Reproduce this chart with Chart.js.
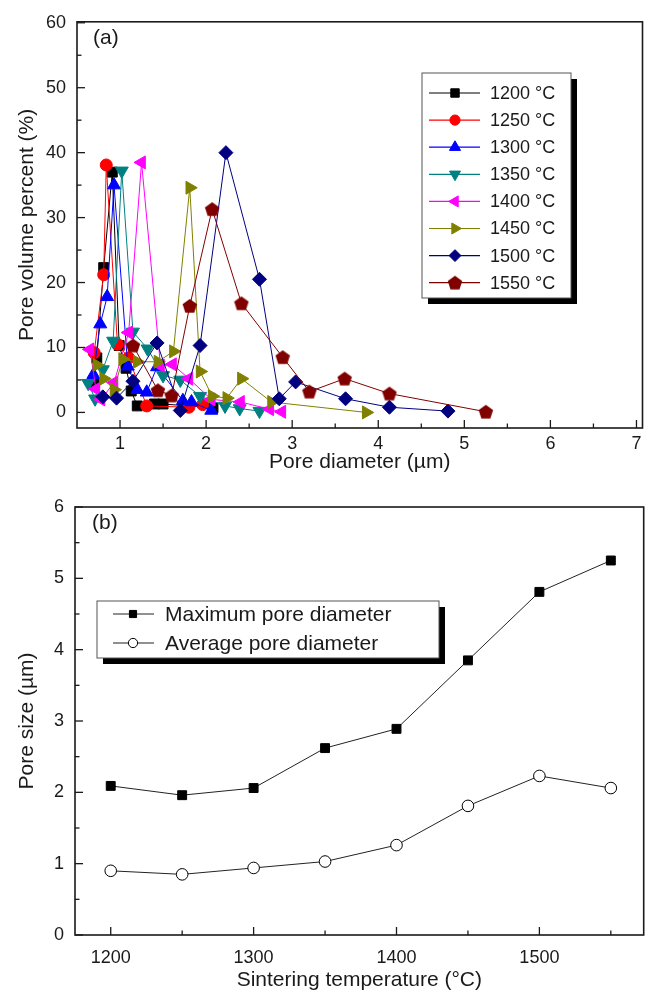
<!DOCTYPE html>
<html>
<head>
<meta charset="utf-8">
<script src="https://cdn.jsdelivr.net/npm/chart.js@4"></script>
<style>
  html, body { margin: 0; padding: 0; background: #fff; }
  canvas { position: absolute; left: 0; }
  #chartA { top: 0; }
  #chartB { top: 475px; }
</style>
</head>
<body>
<canvas id="chartA" width="651" height="475"></canvas>
<canvas id="chartB" width="651" height="519"></canvas>
<script>
// (a) pore size distributions, one pair of arrays per sintering temperature
const dia1200 = [0.70, 0.73, 0.81, 0.91, 0.99, 1.07, 1.13, 1.20, 1.40, 1.50, 2.08];
const vol1200 = [4.5, 8.4, 22.3, 37.0, 10.3, 6.8, 3.3, 1.0, 1.3, 1.3, 0.7];
const dia1250 = [0.70, 0.81, 0.84, 0.97, 1.10, 1.31, 1.80, 1.96];
const vol1250 = [9.2, 21.2, 38.1, 10.5, 8.4, 1.0, 0.8, 1.2];
const dia1300 = [0.69, 0.77, 0.85, 0.93, 1.09, 1.20, 1.31, 1.43, 1.73, 1.83, 2.06];
const vol1300 = [5.8, 13.6, 17.8, 35.0, 7.1, 3.5, 3.1, 7.0, 1.8, 1.6, 0.3];
const dia1350 = [0.63, 0.71, 0.80, 0.92, 1.02, 1.15, 1.32, 1.50, 1.70, 1.93, 2.22, 2.39, 2.62];
const vol1350 = [4.5, 2.1, 6.6, 11.0, 37.2, 12.4, 9.8, 5.7, 5.0, 2.5, 1.0, 0.6, 0.2];
const dia1400 = [0.65, 0.72, 0.78, 0.93, 1.10, 1.25, 1.47, 1.61, 1.80, 2.06, 2.40, 2.74, 2.88];
const vol1400 = [9.7, 3.6, 2.0, 4.6, 12.3, 38.5, 7.2, 7.4, 5.2, 2.0, 1.6, 0.5, 0.1];
const dia1450 = [0.73, 0.81, 0.93, 1.03, 1.20, 1.44, 1.62, 1.81, 1.93, 2.07, 2.24, 2.41, 2.76, 3.86];
const vol1450 = [7.3, 5.2, 3.5, 8.2, 7.8, 7.8, 9.4, 34.6, 6.3, 2.5, 2.2, 5.2, 1.6, 0.0];
const dia1500 = [0.80, 0.96, 1.15, 1.43, 1.70, 1.93, 2.23, 2.62, 2.85, 3.04, 3.62, 4.13, 4.81];
const vol1500 = [2.4, 2.2, 4.8, 10.7, 0.3, 10.3, 40.0, 20.5, 2.1, 4.7, 2.1, 0.8, 0.2];
const dia1550 = [1.15, 1.44, 1.60, 1.81, 2.07, 2.41, 2.89, 3.20, 3.61, 4.13, 5.25];
const vol1550 = [10.3, 3.4, 2.6, 16.4, 31.3, 16.8, 8.5, 3.2, 5.2, 2.9, 0.1];

const seriesNames = ["1200 °C", "1250 °C", "1300 °C", "1350 °C", "1400 °C", "1450 °C", "1500 °C", "1550 °C"];
const diaTicks = [1, 2, 3, 4, 5, 6, 7];
const volTicks = [0, 10, 20, 30, 40, 50, 60];

// (b) pore size vs sintering temperature
const sinterTemps = [1200, 1250, 1300, 1350, 1400, 1450, 1500, 1550];
const maxDia = [2.09, 1.96, 2.06, 2.62, 2.89, 3.85, 4.81, 5.25];
const avgDia = [0.90, 0.85, 0.94, 1.03, 1.26, 1.81, 2.23, 2.06];
const tempTicks = [1200, 1300, 1400, 1500];
const sizeTicks = [0, 1, 2, 3, 4, 5, 6];

const FONT = "'Liberation Sans', Arial, sans-serif";
const INK = '#1a1a1a';

// pentagon marker, chart.js has no built in one
const pentagon = (() => {
  const c = document.createElement('canvas');
  c.width = 16; c.height = 16;
  const g = c.getContext('2d');
  g.fillStyle = '#800000';
  g.beginPath();
  for (let i = 0; i < 5; i++) {
    const a = -Math.PI / 2 + i * 2 * Math.PI / 5;
    const px = 8 + 7.6 * Math.cos(a), py = 8.6 + 7.6 * Math.sin(a);
    i ? g.lineTo(px, py) : g.moveTo(px, py);
  }
  g.closePath();
  g.fill();
  return c;
})();

const pairs = (xs, ys) => xs.map((x, i) => ({ x: x, y: ys[i] }));
const plain = v => String(v);

const styles = [
  { c: '#000000', s: 'rect', r: 7, rot: 0 },
  { c: '#ff0000', s: 'circle', r: 6, rot: 0 },
  { c: '#0000ff', s: 'triangle', r: 7.5, rot: 0 },
  { c: '#008080', s: 'triangle', r: 7.5, rot: 180 },
  { c: '#ff00ff', s: 'triangle', r: 7.5, rot: 270 },
  { c: '#808000', s: 'triangle', r: 7.5, rot: 90 },
  { c: '#000080', s: 'rectRot', r: 7, rot: 0 },
  { c: '#800000', s: pentagon, r: 7, rot: 0 },
];
const poreData = [
  pairs(dia1200, vol1200), pairs(dia1250, vol1250), pairs(dia1300, vol1300), pairs(dia1350, vol1350),
  pairs(dia1400, vol1400), pairs(dia1450, vol1450), pairs(dia1500, vol1500), pairs(dia1550, vol1550),
];

// box, inward ticks, inset legend with shadow, panel letter
const framePlugin = {
  id: 'frame',
  afterDraw(chart, args, o) {
    const { ctx, chartArea: a, scales } = chart;
    const xs = scales.x, ys = scales.y;
    ctx.save();
    ctx.strokeStyle = INK;
    ctx.lineWidth = 1.6;
    ctx.strokeRect(a.left, a.top, a.right - a.left, a.bottom - a.top);
    ctx.lineWidth = 1.3;
    const tick = (x1, y1, x2, y2) => { ctx.beginPath(); ctx.moveTo(x1, y1); ctx.lineTo(x2, y2); ctx.stroke(); };
    o.xMajor.forEach(v => { const p = xs.getPixelForValue(v); tick(p, a.bottom, p, a.bottom - 8); });
    o.xMinor.forEach(v => { const p = xs.getPixelForValue(v); tick(p, a.bottom, p, a.bottom - 4.5); });
    o.yMajor.forEach(v => { const p = ys.getPixelForValue(v); tick(a.left, p, a.left + 8, p); });
    o.yMinor.forEach(v => { const p = ys.getPixelForValue(v); tick(a.left, p, a.left + 4.5, p); });

    // panel letter
    ctx.fillStyle = INK;
    ctx.font = '21px ' + FONT;
    ctx.textBaseline = 'middle';
    ctx.textAlign = 'left';
    ctx.fillText(o.letter, o.letterX, o.letterY);

    // legend
    const L = o.legend;
    ctx.fillStyle = '#000';
    ctx.fillRect(L.x + 6, L.y + 6, L.w, L.h);
    ctx.fillStyle = '#fff';
    ctx.fillRect(L.x, L.y, L.w, L.h);
    ctx.strokeStyle = '#555';
    ctx.lineWidth = 1;
    ctx.strokeRect(L.x, L.y, L.w, L.h);
    ctx.font = L.font + 'px ' + FONT;
    chart.data.datasets.forEach((ds, i) => {
      const y = L.y + L.first + i * L.step;
      ctx.strokeStyle = ds.borderColor;
      ctx.lineWidth = 1.2;
      tick(L.lineFrom, y, L.lineTo, y);
      ctx.fillStyle = ds.pointBackgroundColor;
      ctx.strokeStyle = ds.pointBorderColor;
      ctx.lineWidth = ds.pointBorderWidth;
      Chart.helpers.drawPoint(ctx, {
        pointStyle: ds.pointStyle, rotation: ds.pointRotation,
        radius: ds.pointRadius * L.scale, borderWidth: ds.pointBorderWidth
      }, L.marker, y);
      ctx.fillStyle = INK;
      ctx.fillText(ds.label, L.text, y + 1);
    });
    ctx.restore();
  }
};

const tickFont = { family: FONT, size: 18 };
const titleFont = { family: FONT, size: 21 };

const chartA = new Chart(document.getElementById('chartA'), {
  type: 'scatter',
  data: {
    datasets: poreData.map((d, i) => ({
      label: seriesNames[i],
      data: d,
      showLine: true,
      borderColor: styles[i].c,
      borderWidth: 1,
      pointStyle: styles[i].s,
      pointRotation: styles[i].rot,
      pointRadius: styles[i].r,
      pointBackgroundColor: styles[i].c,
      pointBorderColor: styles[i].c,
      pointBorderWidth: 1,
      order: -i,
    })),
  },
  options: {
    responsive: false,
    animation: false,
    layout: { padding: { top: 15, right: 8, left: 0, bottom: 0 } },
    plugins: {
      legend: { display: false },
      tooltip: { enabled: false },
      frame: {
        xMajor: diaTicks, xMinor: [1.5, 2.5, 3.5, 4.5, 5.5, 6.5],
        yMajor: volTicks, yMinor: [5, 15, 25, 35, 45, 55],
        letter: '(a)', letterX: 93, letterY: 38,
        legend: { x: 422, y: 73, w: 149, h: 225, first: 20, step: 27.1, font: 18,
                  lineFrom: 429, lineTo: 480, marker: 455, text: 490, scale: 0.85 },
      },
    },
    scales: {
      x: {
        type: 'linear', min: 0.5, max: 7.07,
        afterFit: s => { s.height = 47; },
        afterBuildTicks: s => { s.ticks = diaTicks.map(v => ({ value: v })); },
        grid: { display: false, drawTicks: false },
        border: { display: false },
        ticks: { font: tickFont, color: INK, padding: 5, maxRotation: 0, callback: plain },
        title: { display: true, text: 'Pore diameter (µm)', font: titleFont, color: INK, padding: { top: 0, bottom: 0 } },
      },
      y: {
        type: 'linear', min: -2.4, max: 60.15,
        afterFit: s => { s.width = 77; },
        afterBuildTicks: s => { s.ticks = volTicks.map(v => ({ value: v })); },
        grid: { display: false, drawTicks: false },
        border: { display: false },
        ticks: { font: tickFont, color: INK, padding: 11, callback: plain },
        title: { display: true, text: 'Pore volume percent (%)', font: titleFont, color: INK, padding: { top: 15, bottom: 0 } },
      },
    },
  },
  plugins: [framePlugin],
});

const chartB = new Chart(document.getElementById('chartB'), {
  type: 'scatter',
  data: {
    datasets: [
      {
        label: 'Maximum pore diameter',
        data: pairs(sinterTemps, maxDia),
        showLine: true,
        borderColor: '#222',
        borderWidth: 1,
        pointStyle: 'rect',
        pointRadius: 6.3,
        pointRotation: 0,
        pointBackgroundColor: '#000',
        pointBorderColor: '#000',
        pointBorderWidth: 1,
      },
      {
        label: 'Average pore diameter',
        data: pairs(sinterTemps, avgDia),
        showLine: true,
        borderColor: '#222',
        borderWidth: 1,
        pointStyle: 'circle',
        pointRadius: 5.8,
        pointRotation: 0,
        pointBackgroundColor: '#fff',
        pointBorderColor: '#000',
        pointBorderWidth: 1,
      },
    ],
  },
  options: {
    responsive: false,
    animation: false,
    layout: { padding: { top: 32, right: 6, left: 0, bottom: 0 } },
    plugins: {
      legend: { display: false },
      tooltip: { enabled: false },
      frame: {
        xMajor: tempTicks, xMinor: [1250, 1350, 1450, 1550],
        yMajor: sizeTicks, yMinor: [0.5, 1.5, 2.5, 3.5, 4.5, 5.5],
        letter: '(b)', letterX: 92, letterY: 48,
        legend: { x: 97, y: 126, w: 342, h: 57, first: 13, step: 29, font: 21,
                  lineFrom: 113, lineTo: 154, marker: 133, text: 165, scale: 0.8 },
      },
    },
    scales: {
      x: {
        type: 'linear', min: 1175, max: 1573,
        afterFit: s => { s.height = 59; },
        afterBuildTicks: s => { s.ticks = tempTicks.map(v => ({ value: v })); },
        grid: { display: false, drawTicks: false },
        border: { display: false },
        ticks: { font: tickFont, color: INK, padding: 12, maxRotation: 0, callback: plain },
        title: { display: true, text: 'Sintering temperature (°C)', font: titleFont, color: INK, padding: { top: 0, bottom: 1 } },
      },
      y: {
        type: 'linear', min: 0, max: 6,
        afterFit: s => { s.width = 75; },
        afterBuildTicks: s => { s.ticks = sizeTicks.map(v => ({ value: v })); },
        grid: { display: false, drawTicks: false },
        border: { display: false },
        ticks: { font: tickFont, color: INK, padding: 11, callback: plain },
        title: { display: true, text: 'Pore size (µm)', font: titleFont, color: INK, padding: { top: 15, bottom: 0 } },
      },
    },
  },
  plugins: [framePlugin],
});
</script>
</body>
</html>
